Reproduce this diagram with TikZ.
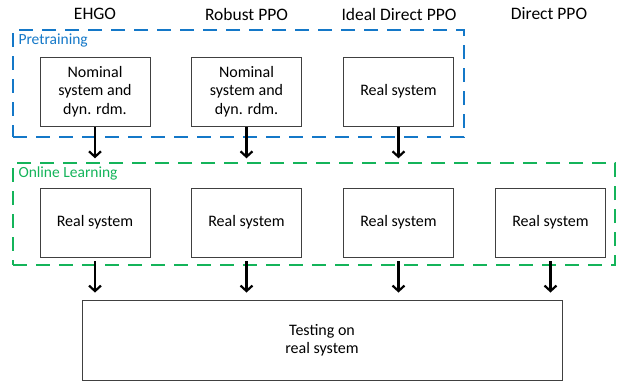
\documentclass[tikz,border=0pt]{standalone}
\usepackage{fontspec}
\setmainfont{Carlito}
\usepackage{xcolor}
\definecolor{preblue}{RGB}{20,120,200}
\definecolor{onlgreen}{RGB}{20,180,90}
\usepackage{tikz}
\usetikzlibrary{
    arrows.meta,
    calc,
    positioning
}
\tikzset{
    sysbox/.style    = {rectangle, draw=black!75, fill=white, line width=0.9pt,
                        minimum width=110pt, minimum height=69pt, inner sep=0pt,
                        align=center, font=\fontsize{16}{18.3}\selectfont},
    groupbox/.style  = {rectangle, line width=1.4pt, dash pattern=on 14pt off 9pt,
                        inner sep=0pt},
    grouptitle/.style = {anchor=north west, inner sep=0pt,
                        font=\fontsize{15.5}{17}\selectfont},
    coltitle/.style  = {font=\fontsize{17.5}{20}\selectfont, inner sep=0pt},
    flowArr/.style   = {-{Straight Barb[length=5.5pt, width=12pt, line width=2.2pt]},
                        line width=2.2pt}
}

\begin{document}
\begin{tikzpicture}[x=1pt, y=-1pt]
\useasboundingbox (0,0) rectangle (619,383);

% ===== Column titles =====
\node[coltitle] (tEHGO)   at (95,14)    {EHGO};
\node[coltitle] (tRobust) at (246.5,14) {Robust PPO};
\node[coltitle] (tIdeal)  at (399,14)   {Ideal Direct PPO};
\node[coltitle] (tDirect) at (549,14)   {Direct PPO};

% ===== Pretraining stage =====
\node[groupbox, draw=preblue, minimum width=451pt, minimum height=107pt]
   (pretrain) at (238.5,83.5) {};
\node[grouptitle, text=preblue] at ($(pretrain.north west)+(6,4)$) {Pretraining};

\node[sysbox] (preEHGO)   at (95,91.5)    {Nominal\\system and\\dyn. rdm.};
\node[sysbox] (preRobust) at (246.5,91.5) {Nominal\\system and\\dyn. rdm.};
\node[sysbox] (preIdeal)  at (398.5,91.5) {Real system};

% ===== Online learning stage =====
\node[groupbox, draw=onlgreen, minimum width=602pt, minimum height=102pt]
   (online) at (314,214) {};
\node[grouptitle, text=onlgreen] at ($(online.north west)+(6,4)$) {Online Learning};

\node[sysbox] (onEHGO)   at (95,222.5)    {Real system};
\node[sysbox] (onRobust) at (246.5,222.5) {Real system};
\node[sysbox] (onIdeal)  at (398.5,222.5) {Real system};
\node[sysbox] (onDirect) at (550.5,222.5) {Real system};

% ===== Testing =====
\node[sysbox, minimum width=480pt, minimum height=80pt]
   (testing) at (322,340) {Testing on\\real system};

% ===== Arrows =====
\foreach \col in {EHGO,Robust,Ideal}
   \draw[flowArr, shorten <=1pt, shorten >=4pt]
      (pre\col.south) -- (pre\col.south |- online.north);
\foreach \col in {EHGO,Robust,Ideal,Direct}
   \draw[flowArr, shorten <=4pt, shorten >=7pt]
      (on\col.south) -- (on\col.south |- testing.north);

\end{tikzpicture}
\end{document}
